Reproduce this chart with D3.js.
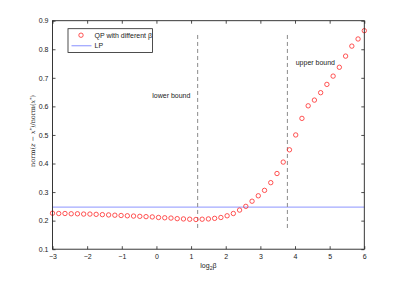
<!DOCTYPE html>
<html>
<head>
<meta charset="utf-8">
<script src="https://cdn.jsdelivr.net/npm/d3@7.9.0/dist/d3.min.js"></script>
<style>
  html, body { margin: 0; padding: 0; background: #fff; }
  svg text { font-family: "Liberation Sans", Arial, sans-serif; }
</style>
</head>
<body>
<div id="chart"></div>
<script>
// ── Data ─────────────────────────────────────────────────────────────────────

const log2Beta = [
  -3.00, -2.82, -2.64, -2.46, -2.28, -2.10, -1.92, -1.74, -1.56, -1.38,
  -1.20, -1.02, -0.84, -0.66, -0.48, -0.30, -0.12, 0.06, 0.24, 0.42,
  0.60, 0.78, 0.96, 1.14, 1.32, 1.50, 1.68, 1.86, 2.04, 2.22,
  2.40, 2.58, 2.76, 2.94, 3.12, 3.30, 3.48, 3.66, 3.84, 4.02,
  4.20, 4.38, 4.56, 4.74, 4.92, 5.10, 5.28, 5.46, 5.64, 5.82, 6.00,
];
const qpError = [
  0.226, 0.225, 0.225, 0.224, 0.224, 0.223, 0.223, 0.222, 0.221, 0.220,
  0.219, 0.218, 0.217, 0.216, 0.215, 0.214, 0.213, 0.211, 0.210, 0.209,
  0.207, 0.206, 0.205, 0.204, 0.205, 0.206, 0.208, 0.211, 0.217, 0.225,
  0.237, 0.250, 0.268, 0.287, 0.306, 0.333, 0.365, 0.405, 0.448, 0.500,
  0.558, 0.602, 0.622, 0.648, 0.677, 0.706, 0.737, 0.776, 0.811, 0.836, 0.865,
];
const lpError = 0.247;
const bounds = [
  { label: 'lower bound', x: 1.19, labelX: -0.12, labelY: 0.637 },
  { label: 'upper bound', x: 3.78, labelX: 4.02, labelY: 0.755 },
];
const boundSpan = [0.17, 0.85];
const xTicks = [-3, -2, -1, 0, 1, 2, 3, 4, 5, 6];
const yTicks = [0.1, 0.2, 0.3, 0.4, 0.5, 0.6, 0.7, 0.8, 0.9];

// ── Layout ───────────────────────────────────────────────────────────────────

const width = 402;
const height = 281;
const plot = { left: 52.5, right: 364.3, top: 20.7, bottom: 249.2 };
const lpColor = '#a3aaff';
const qpColor = '#ff2a2a';

const svg = d3.select('#chart')
  .append('svg')
  .attr('width', width)
  .attr('height', height);

svg.append('rect').attr('width', width).attr('height', height).attr('fill', '#fff');

const x = d3.scaleLinear().domain([-3, 6]).range([plot.left, plot.right]);
const y = d3.scaleLinear().domain([0.1, 0.9]).range([plot.bottom, plot.top]);

const fmtX = (d) => (d < 0 ? '\u2212' + Math.abs(d) : String(d));

// Axes with inward ticks on all four sides
function styleAxis(g) {
  g.select('.domain').remove();
  g.selectAll('line').attr('stroke', '#222').attr('stroke-width', 0.8);
  g.selectAll('text')
    .attr('fill', '#222')
    .style('font-size', '7px')
    .style('font-family', '"Liberation Sans", Arial, sans-serif');
}

svg.append('g')
  .attr('transform', `translate(0,${plot.bottom})`)
  .call(d3.axisBottom(x).tickValues(xTicks).tickFormat(fmtX)
    .tickSizeInner(-3).tickSizeOuter(0).tickPadding(5))
  .call(styleAxis);

svg.append('g')
  .attr('transform', `translate(0,${plot.top})`)
  .call(d3.axisTop(x).tickValues(xTicks).tickFormat('')
    .tickSizeInner(-3).tickSizeOuter(0))
  .call(styleAxis);

svg.append('g')
  .attr('transform', `translate(${plot.left},0)`)
  .call(d3.axisLeft(y).tickValues(yTicks).tickFormat(d3.format('.1f'))
    .tickSizeInner(-3).tickSizeOuter(0).tickPadding(4))
  .call(styleAxis);

svg.append('g')
  .attr('transform', `translate(${plot.right},0)`)
  .call(d3.axisRight(y).tickValues(yTicks).tickFormat('')
    .tickSizeInner(-3).tickSizeOuter(0))
  .call(styleAxis);

// LP reference line
svg.append('line')
  .attr('x1', x(-3)).attr('x2', x(6))
  .attr('y1', y(lpError)).attr('y2', y(lpError))
  .attr('stroke', lpColor)
  .attr('stroke-width', 1.3);

// Bound markers
svg.append('g').selectAll('line')
  .data(bounds)
  .join('line')
  .attr('x1', (d) => x(d.x)).attr('x2', (d) => x(d.x))
  .attr('y1', y(boundSpan[1])).attr('y2', y(boundSpan[0]))
  .attr('stroke', '#8a8a8a')
  .attr('stroke-width', 1)
  .attr('stroke-dasharray', '4,3');

svg.append('g').selectAll('text')
  .data(bounds)
  .join('text')
  .attr('x', (d) => x(d.labelX))
  .attr('y', (d) => y(d.labelY))
  .attr('dy', '0.35em')
  .attr('fill', '#222')
  .style('font-size', '7px')
  .text((d) => d.label);

// QP points
svg.append('g').selectAll('circle')
  .data(log2Beta.map((b, i) => [b, qpError[i]]))
  .join('circle')
  .attr('cx', (d) => x(d[0]))
  .attr('cy', (d) => y(d[1]))
  .attr('r', 2.2)
  .attr('fill', 'none')
  .attr('stroke', qpColor)
  .attr('stroke-width', 0.8);

// Plot box
svg.append('rect')
  .attr('x', plot.left).attr('y', plot.top)
  .attr('width', plot.right - plot.left)
  .attr('height', plot.bottom - plot.top)
  .attr('fill', 'none')
  .attr('stroke', '#222')
  .attr('stroke-width', 0.9);

// Legend
const legend = svg.append('g').attr('transform', 'translate(68,28.7)');
legend.append('rect')
  .attr('width', 84.5).attr('height', 23.8)
  .attr('fill', '#fff').attr('stroke', '#222').attr('stroke-width', 0.8);
legend.append('circle')
  .attr('cx', 13).attr('cy', 6.5).attr('r', 2.2)
  .attr('fill', 'none').attr('stroke', qpColor).attr('stroke-width', 0.8);
legend.append('line')
  .attr('x1', 3.5).attr('x2', 23.5).attr('y1', 17).attr('y2', 17)
  .attr('stroke', lpColor).attr('stroke-width', 1.3);
legend.append('text')
  .attr('x', 26.5).attr('y', 6.5).attr('dy', '0.35em')
  .attr('fill', '#222').style('font-size', '7px')
  .text('QP with different \u03b2');
legend.append('text')
  .attr('x', 26.5).attr('y', 17).attr('dy', '0.35em')
  .attr('fill', '#222').style('font-size', '7px')
  .text('LP');

// Axis titles
const xTitle = svg.append('text')
  .attr('x', (plot.left + plot.right) / 2)
  .attr('y', 268)
  .attr('text-anchor', 'middle')
  .attr('fill', '#222')
  .style('font-size', '7px');
xTitle.append('tspan').text('log');
xTitle.append('tspan').attr('dy', 2).style('font-size', '5px').text('2');
xTitle.append('tspan').attr('dy', -2).text('\u03b2');

const yTitle = svg.append('text')
  .attr('transform', `translate(35,${(plot.top + plot.bottom) / 2 - 4}) rotate(-90)`)
  .attr('text-anchor', 'middle')
  .attr('fill', '#222')
  .style('font-family', '"DejaVu Serif", "Liberation Serif", serif')
  .style('font-size', '6.5px');
yTitle.append('tspan').text('norm(');
yTitle.append('tspan').style('font-style', 'italic').text('z');
yTitle.append('tspan').text(' \u2212 ');
yTitle.append('tspan').style('font-style', 'italic').text('x');
yTitle.append('tspan').attr('dy', -2.5).style('font-size', '4.5px').text('*');
yTitle.append('tspan').attr('dy', 2.5).text(')/norm(');
yTitle.append('tspan').style('font-style', 'italic').text('x');
yTitle.append('tspan').attr('dy', -2.5).style('font-size', '4.5px').text('*');
yTitle.append('tspan').attr('dy', 2.5).text(')');
</script>
</body>
</html>
